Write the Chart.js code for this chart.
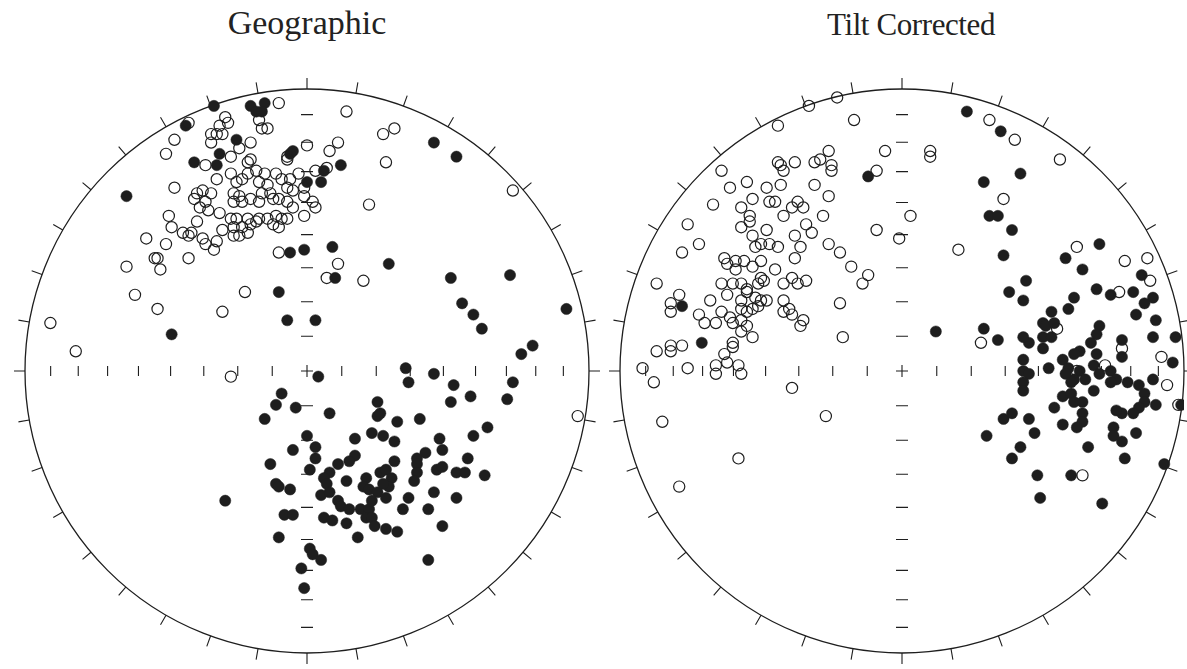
<!DOCTYPE html>
<html>
<head>
<meta charset="utf-8">
<script src="https://cdn.jsdelivr.net/npm/chart.js@4"></script>
<style>
  html, body { margin: 0; padding: 0; background: #fff; overflow: hidden; }
  #wrap { position: relative; width: 1187px; height: 669px; }
  .title { position: absolute; top: 4px; width: 300px; text-align: center;
    font-family: "Liberation Serif", "DejaVu Serif", serif; font-size: 34px; color: #222; }
  canvas { position: absolute; top: 76px; }
</style>
</head>
<body>
<div id="wrap">
  <div class="title" style="left:157px">Geographic</div>
  <div class="title" style="left:761px;top:7px;font-size:31px;letter-spacing:-0.4px">Tilt Corrected</div>
  <canvas id="geo" width="590" height="590" style="left:12px"></canvas>
  <canvas id="tilt" width="590" height="590" style="left:607px"></canvas>
</div>
<script>
// equal-area projection coords, x = east, y = north, unit circle
const geoOpen = [
  [-0.10,0.95],[-0.42,0.88],[-0.29,0.90],[-0.31,0.87],[-0.28,0.88],[-0.34,0.84],[-0.32,0.84],[-0.30,0.84],
  [-0.34,0.81],[-0.17,0.89],[-0.16,0.86],[-0.14,0.86],[-0.47,0.82],[-0.50,0.77],[-0.20,0.81],[-0.24,0.79],
  [-0.27,0.76],[-0.36,0.73],[-0.21,0.74],[-0.20,0.75],[-0.07,0.76],[0.00,0.80],[-0.47,0.65],[-0.32,0.68],
  [-0.07,0.75],[-0.27,0.70],[-0.25,0.67],[-0.23,0.68],[-0.21,0.70],[-0.18,0.71],[-0.15,0.70],[-0.11,0.70],
  [-0.09,0.68],[-0.06,0.68],[-0.03,0.70],[0.03,0.71],[-0.17,0.67],[-0.14,0.66],[-0.16,0.63],[-0.13,0.63],
  [-0.07,0.65],[-0.05,0.64],[-0.01,0.65],[-0.39,0.63],[-0.37,0.64],[-0.34,0.63],[-0.40,0.61],[-0.36,0.60],
  [-0.38,0.58],[-0.35,0.57],[-0.26,0.63],[-0.24,0.62],[-0.26,0.60],[-0.23,0.60],[-0.20,0.61],[-0.17,0.60],
  [-0.12,0.61],[-0.10,0.61],[-0.07,0.60],[-0.05,0.58],[-0.01,0.62],[0.02,0.60],[0.03,0.58],[-0.01,0.55],
  [-0.31,0.56],[-0.27,0.54],[-0.25,0.54],[-0.21,0.54],[-0.26,0.51],[-0.23,0.51],[-0.21,0.49],[-0.26,0.48],
  [-0.24,0.48],[-0.17,0.54],[-0.14,0.54],[-0.11,0.55],[-0.09,0.54],[-0.12,0.52],[-0.10,0.51],[-0.07,0.54],
  [-0.20,0.52],[-0.18,0.53],[-0.39,0.53],[-0.41,0.49],[-0.30,0.50],[-0.37,0.47],[-0.36,0.45],[-0.32,0.46],
  [-0.33,0.43],[-0.10,0.42],[-0.49,0.55],[-0.48,0.51],[-0.44,0.49],[-0.42,0.48],[-0.57,0.47],[-0.50,0.45],
  [-0.54,0.40],[-0.53,0.40],[-0.52,0.36],[-0.42,0.40],[-0.64,0.37],[-0.61,0.27],[-0.53,0.22],[-0.30,0.21],
  [-0.22,0.28],[-0.91,0.17],[-0.82,0.07],[-0.27,-0.02],[0.14,0.92],[0.27,0.84],[0.31,0.86],[0.11,0.81],
  [0.08,0.78],[0.28,0.74],[0.07,0.72],[0.22,0.59],[0.11,0.38],[0.07,0.33],[0.20,0.32],[0.73,0.64],
  [0.96,-0.16],
];

const geoFilled = [
  [-0.33,0.94],[-0.43,0.87],[-0.20,0.94],[-0.18,0.92],[-0.15,0.95],[-0.16,0.92],[-0.25,0.82],[-0.31,0.77],
  [-0.32,0.73],[-0.40,0.74],[-0.05,0.78],[-0.06,0.77],[-0.64,0.62],[0.00,0.67],[0.06,0.71],[0.05,0.67],
  [0.12,0.73],[-0.06,0.42],[-0.01,0.43],[0.09,0.44],[-0.10,0.28],[-0.07,0.18],[0.03,0.18],[-0.48,0.13],
  [0.45,0.81],[0.53,0.76],[0.29,0.38],[0.10,0.33],[0.51,0.33],[0.72,0.34],[0.55,0.24],[0.59,0.20],
  [0.62,0.15],[0.92,0.22],[0.80,0.09],[0.76,0.06],[0.35,0.01],[0.04,-0.02],[0.45,-0.01],
  [-0.09,-0.08],[-0.11,-0.12],[-0.04,-0.13],[-0.15,-0.17],[0.08,-0.15],[0.00,-0.23],[-0.05,-0.28],[0.03,-0.27],
  [0.03,-0.31],[-0.13,-0.33],[0.01,-0.35],[-0.11,-0.40],[-0.10,-0.41],[-0.06,-0.42],[-0.29,-0.46],[-0.08,-0.51],
  [-0.05,-0.51],[0.06,-0.52],[0.09,-0.53],[0.14,-0.54],[-0.10,-0.59],[0.01,-0.63],[0.02,-0.65],[0.05,-0.67],
  [-0.02,-0.70],[-0.01,-0.77],
  [0.17,-0.24],[0.23,-0.22],[0.27,-0.23],[0.31,-0.25],[0.17,-0.30],[0.15,-0.32],[0.11,-0.33],[0.08,-0.36],
  [0.06,-0.38],[0.07,-0.40],[0.05,-0.44],[0.08,-0.43],[0.11,-0.46],[0.14,-0.39],[0.21,-0.38],[0.20,-0.41],
  [0.22,-0.42],[0.26,-0.36],[0.28,-0.35],[0.30,-0.38],[0.29,-0.41],[0.27,-0.40],[0.25,-0.43],[0.28,-0.45],
  [0.31,-0.32],[0.12,-0.48],[0.15,-0.49],[0.19,-0.49],[0.22,-0.49],[0.21,-0.52],[0.23,-0.52],[0.23,-0.46],
  [0.34,-0.49],[0.36,-0.45],[0.24,-0.55],[0.28,-0.56],[0.32,-0.57],[0.18,-0.59],
  [0.36,-0.04],[0.52,-0.05],[0.73,-0.04],[0.58,-0.09],[0.51,-0.11],[0.71,-0.10],[0.25,-0.11],[0.25,-0.16],
  [0.26,-0.15],[0.32,-0.18],[0.40,-0.17],[0.64,-0.20],[0.47,-0.24],[0.59,-0.23],[0.42,-0.29],[0.48,-0.28],
  [0.57,-0.31],[0.39,-0.31],[0.39,-0.33],[0.39,-0.36],[0.46,-0.35],[0.48,-0.34],[0.53,-0.36],[0.56,-0.36],
  [0.63,-0.37],[0.38,-0.39],[0.45,-0.43],[0.53,-0.45],[0.43,-0.49],[0.48,-0.55],[0.43,-0.67],
];

const tiltOpen = [
  [-0.23,0.97],[-0.33,0.94],[-0.17,0.89],[-0.44,0.87],[-0.26,0.78],[-0.06,0.78],[-0.44,0.74],[-0.43,0.73],
  [-0.38,0.74],[-0.42,0.71],[-0.31,0.74],[-0.29,0.75],[-0.25,0.73],[-0.25,0.71],[-0.09,0.71],[-0.64,0.71],
  [-0.61,0.65],[-0.55,0.67],[-0.48,0.65],[-0.43,0.66],[-0.31,0.66],[-0.26,0.62],[-0.53,0.61],[-0.47,0.60],
  [-0.45,0.60],[-0.39,0.58],[-0.37,0.60],[-0.35,0.58],[-0.67,0.59],[-0.57,0.58],[-0.54,0.55],[-0.54,0.53],
  [-0.42,0.55],[-0.28,0.55],[0.03,0.55],[-0.76,0.52],[-0.57,0.51],[-0.48,0.50],[-0.34,0.52],[-0.32,0.49],
  [-0.09,0.50],[-0.38,0.48],[-0.01,0.47],[-0.72,0.45],[-0.53,0.48],[-0.50,0.45],[-0.52,0.44],[-0.47,0.45],
  [-0.44,0.44],[-0.36,0.44],[-0.78,0.42],[-0.26,0.45],[-0.22,0.42],[-0.38,0.40],[-0.63,0.40],[-0.62,0.38],
  [-0.59,0.39],[-0.56,0.39],[-0.50,0.39],[-0.59,0.36],[-0.53,0.37],[-0.45,0.36],[-0.18,0.37],[-0.12,0.34],
  [-0.14,0.31],[-0.50,0.33],[-0.49,0.32],[-0.51,0.31],[-0.39,0.33],[-0.37,0.31],[-0.34,0.32],[-0.42,0.31],
  [-0.64,0.31],[-0.60,0.31],[-0.57,0.31],[-0.55,0.29],[-0.55,0.28],[-0.87,0.31],[-0.79,0.27],[-0.82,0.24],
  [-0.82,0.21],[-0.62,0.27],[-0.52,0.26],[-0.50,0.25],[-0.48,0.25],[-0.51,0.23],[-0.53,0.22],[-0.57,0.25],
  [-0.57,0.22],[-0.55,0.21],[-0.42,0.25],[-0.42,0.21],[-0.68,0.25],[-0.22,0.24],[-0.40,0.22],[-0.39,0.20],
  [-0.72,0.20],[-0.64,0.21],[-0.61,0.19],[-0.60,0.17],[-0.70,0.17],[-0.66,0.17],[-0.57,0.18],[-0.55,0.16],
  [-0.53,0.12],[-0.57,0.14],[-0.35,0.18],[-0.36,0.16],[-0.21,0.12],[-0.60,0.10],[-0.60,0.085],[-0.82,0.09],
  [-0.82,0.07],[-0.78,0.09],[-0.87,0.07],[-0.63,0.06],[-0.62,0.03],[-0.58,0.02],[-0.57,-0.01],[-0.66,0.02],
  [-0.66,-0.01],[-0.76,0.01],[-0.92,0.01],[-0.88,-0.04],[-0.39,-0.06],[-0.85,-0.18],[-0.27,-0.16],[-0.58,-0.31],
  [-0.79,-0.41],
  [0.31,0.89],[0.40,0.82],[0.10,0.78],[0.10,0.76],[0.56,0.75],[0.36,0.61],[0.20,0.43],[0.62,0.44],
  [0.79,0.39],[0.87,0.40],[0.88,0.32],[0.77,0.28],[0.55,0.15],[0.28,0.10],[0.78,0.08],[0.92,0.05],
  [0.72,0.02],[0.62,0.00],[0.94,-0.05],[0.98,-0.12],[0.64,-0.37],
];

const tiltFilled = [
  [-0.12,0.69],[-0.78,0.23],[-0.71,0.10],[0.23,0.92],[0.35,0.85],[0.42,0.70],[0.29,0.67],[0.31,0.55],
  [0.34,0.55],[0.39,0.50],[0.36,0.41],[0.70,0.45],[0.58,0.40],[0.64,0.36],[0.85,0.34],[0.44,0.32],
  [0.38,0.28],[0.43,0.25],[0.61,0.26],[0.69,0.29],[0.74,0.27],[0.82,0.28],[0.89,0.26],[0.86,0.24],
  [0.59,0.22],[0.53,0.21],[0.50,0.17],[0.51,0.16],[0.54,0.17],[0.50,0.12],[0.53,0.12],[0.50,0.08],
  [0.45,0.10],[0.83,0.20],[0.90,0.18],[0.12,0.14],[0.29,0.15],[0.34,0.11],[0.43,0.12],[0.70,0.16],
  [0.69,0.13],[0.89,0.12],[0.97,0.12],[0.78,0.11],[0.78,0.05],[0.67,0.10],[0.69,0.06],[0.63,0.07],
  [0.61,0.06],[0.57,0.04],[0.59,0.01],[0.43,0.04],[0.43,0.00],[0.52,0.01],[0.63,0.00],[0.65,-0.03],
  [0.61,-0.03],[0.68,0.02],[0.70,-0.01],[0.74,0.00],[0.76,-0.03],[0.74,-0.04],[0.80,-0.04],[0.96,0.03],
  [0.89,-0.03],[0.45,-0.01],[0.43,-0.04],[0.43,-0.07],[0.58,-0.01],[0.60,-0.04],[0.68,-0.07],[0.84,-0.05],
  [0.86,-0.08],[0.86,-0.11],[0.84,-0.13],[0.82,-0.15],[0.78,-0.15],[0.76,-0.14],[0.90,-0.12],[0.99,-0.12],
  [0.57,-0.09],[0.60,-0.08],[0.64,-0.11],[0.61,-0.11],[0.54,-0.13],[0.64,-0.15],[0.64,-0.18],[0.62,-0.20],
  [0.57,-0.19],[0.36,-0.17],[0.39,-0.15],[0.45,-0.17],[0.30,-0.23],[0.47,-0.22],[0.75,-0.20],[0.75,-0.23],
  [0.78,-0.25],[0.83,-0.22],[0.42,-0.27],[0.39,-0.31],[0.66,-0.27],[0.79,-0.31],[0.93,-0.33],[0.48,-0.37],
  [0.60,-0.37],[0.49,-0.45],[0.71,-0.47],
];

// net furniture
const azimuthTicks = [0, 10, 20, 30, 40, 50, 60, 70, 80, 90, 100, 110, 120, 130, 140, 150, 160, 170,
  180, 190, 200, 210, 220, 230, 240, 250, 260, 270, 280, 290, 300, 310, 320, 330, 340, 350];
const inclinationTicks = [10, 20, 30, 40, 50, 60, 70, 80];

const INK = "#1e1e1e";
const toXY = (arr) => arr.map(([x, y]) => ({ x, y }));
// equal-area radius for an inclination, unit primitive circle
const eqArea = (inc) => Math.SQRT2 * Math.sin(((90 - inc) / 2) * Math.PI / 180);

const netPlugin = {
  id: "stereonet",
  beforeDatasetsDraw(chart) {
    const { ctx, scales: { x, y } } = chart;
    const cx = x.getPixelForValue(0), cy = y.getPixelForValue(0);
    const r = x.getPixelForValue(1) - cx;
    ctx.save();
    ctx.strokeStyle = INK;
    ctx.lineWidth = 1.3;
    ctx.beginPath();
    ctx.arc(cx, cy, r, 0, Math.PI * 2);
    ctx.stroke();

    ctx.lineWidth = 1.1;
    ctx.beginPath();
    azimuthTicks.forEach((az) => {
      const a = az * Math.PI / 180;
      const sx = Math.sin(a), sy = -Math.cos(a);
      ctx.moveTo(cx + sx * r, cy + sy * r);
      ctx.lineTo(cx + sx * (r + 11), cy + sy * (r + 11));
    });
    inclinationTicks.forEach((inc) => {
      const d = eqArea(inc);
      [-1, 1].forEach((s) => {
        const px = x.getPixelForValue(s * d);
        ctx.moveTo(px, cy - 5); ctx.lineTo(px, cy + 5);
        const py = y.getPixelForValue(s * d);
        ctx.moveTo(cx - 6, py); ctx.lineTo(cx + 6, py);
      });
    });
    ctx.moveTo(cx - 6, cy); ctx.lineTo(cx + 6, cy);
    ctx.moveTo(cx, cy - 6); ctx.lineTo(cx, cy + 6);
    ctx.stroke();
    ctx.restore();
  },
};

function buildNet(id, open, filled) {
  return new Chart(document.getElementById(id), {
    type: "scatter",
    data: {
      datasets: [
        { label: "upper", data: toXY(open), pointRadius: 5.6, pointBorderWidth: 1.2,
          pointBackgroundColor: "rgba(0,0,0,0)", pointBorderColor: INK },
        { label: "lower", data: toXY(filled), pointRadius: 5.6, pointBorderWidth: 0.5,
          pointBackgroundColor: INK, pointBorderColor: INK },
      ],
    },
    options: {
      responsive: false,
      animation: false,
      layout: { padding: 13 },
      scales: {
        x: { type: "linear", min: -1, max: 1, display: false },
        y: { type: "linear", min: -1, max: 1, display: false },
      },
      plugins: { legend: { display: false }, tooltip: { enabled: false } },
    },
    plugins: [netPlugin],
  });
}

window.addEventListener("DOMContentLoaded", () => {
  buildNet("geo", geoOpen, geoFilled);
  buildNet("tilt", tiltOpen, tiltFilled);
});
</script>
</body>
</html>
